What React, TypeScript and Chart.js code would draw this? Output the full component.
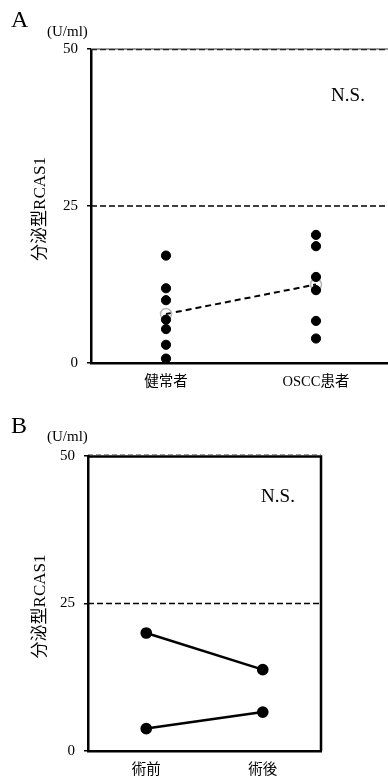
import React, { useEffect, useRef } from "react";
import { Chart, registerables } from "chart.js";

Chart.register(...registerables);

// ---- Data ----
const groupsA = ["健常者", "OSCC患者"];
const healthyValues = [17.1, 11.9, 10.0, 6.9, 5.4, 2.9, 0.7];
const osccValues = [20.4, 18.6, 13.7, 11.6, 6.7, 3.9];
const meanValues = [7.8, 12.5];

const phasesB = ["術前", "術後"];
const patient1 = [20.0, 13.8];
const patient2 = [3.8, 6.6];

const yTicks = [0, 25, 50];
const cutoff = 25;
const yMax = 50;
const yTitle = "分泌型RCAS1";
const unitLabel = "(U/ml)";
const sigLabel = "N.S.";
const panelLabels = ["A", "B"];

const SERIF = "'Liberation Serif', 'Times New Roman', serif";
const MIXED = "'Liberation Serif', 'Noto Sans CJK JP', serif";

type PanelLayout = {
  width: number;
  height: number;
  top: number;
  left: number;
  right: number;
  bottom: number;
  boxed: boolean;
  panel: string;
  nsX: number;
  nsY: number;
  letterY: number;
  unitY: number;
};

function annotationPlugin(L: PanelLayout) {
  return {
    id: "annot" + L.panel,
    beforeDatasetsDraw(chart: any) {
      const ctx = chart.ctx as CanvasRenderingContext2D;
      const y = chart.scales.y;
      const area = chart.chartArea;
      const extra = L.boxed ? 0 : 20;
      ctx.save();
      // cutoff dashed line
      const yc = y.getPixelForValue(cutoff);
      ctx.strokeStyle = "#000";
      ctx.lineWidth = 1.6;
      ctx.setLineDash([6, 3]);
      ctx.beginPath();
      ctx.moveTo(area.left, yc);
      ctx.lineTo(area.right + extra, yc);
      ctx.stroke();
      // top line at max
      const yt = y.getPixelForValue(yMax);
      if (L.boxed) {
        ctx.setLineDash([]);
        ctx.lineWidth = 2.5;
        ctx.strokeStyle = "#000";
        ctx.beginPath();
        ctx.moveTo(area.left, yt + 0.5);
        ctx.lineTo(area.right, yt + 0.5);
        ctx.lineTo(area.right, area.bottom);
        ctx.stroke();
        ctx.setLineDash([5, 3]);
        ctx.lineWidth = 1;
        ctx.strokeStyle = "#999";
        ctx.beginPath();
        ctx.moveTo(area.left, yt - 1.5);
        ctx.lineTo(area.right, yt - 1.5);
        ctx.stroke();
      } else {
        ctx.setLineDash([]);
        ctx.lineWidth = 2.2;
        ctx.strokeStyle = "#9a9a9a";
        ctx.beginPath();
        ctx.moveTo(area.left, yt);
        ctx.lineTo(area.right + extra, yt);
        ctx.stroke();
        ctx.setLineDash([6, 3]);
        ctx.lineWidth = 1.2;
        ctx.strokeStyle = "#222";
        ctx.beginPath();
        ctx.moveTo(area.left, yt + 0.6);
        ctx.lineTo(area.right + extra, yt + 0.6);
        ctx.stroke();
      }
      ctx.restore();
    },
    afterDraw(chart: any) {
      const ctx = chart.ctx as CanvasRenderingContext2D;
      const area = chart.chartArea;
      ctx.save();
      ctx.fillStyle = "#000";
      // panel letter
      ctx.font = `24px ${SERIF}`;
      ctx.textAlign = "left";
      ctx.textBaseline = "middle";
      ctx.fillText(L.panel, 11, L.letterY);
      // unit
      ctx.font = `15px ${SERIF}`;
      ctx.fillText(unitLabel, 47, L.unitY);
      // N.S.
      ctx.font = `19px ${SERIF}`;
      ctx.textAlign = "center";
      ctx.fillText(sigLabel, L.nsX, L.nsY);
      // y title
      ctx.translate(41, (area.top + area.bottom) / 2 + 3);
      ctx.rotate(-Math.PI / 2);
      ctx.font = `17px ${MIXED}`;
      ctx.textAlign = "center";
      ctx.textBaseline = "middle";
      ctx.fillText(yTitle, 0, 0);
      ctx.restore();
    },
  };
}

function baseScales(L: PanelLayout) {
  return {
    x: {
      type: "category" as const,
      offset: true,
      grid: { drawOnChartArea: false, drawTicks: false },
      border: { display: true, color: "#000", width: 2.5 },
      ticks: { color: "#000", font: { family: MIXED, size: 14.5 }, padding: 10 },
      afterFit: (s: any) => {
        s.height = L.height - L.bottom;
      },
    },
    y: {
      min: 0,
      max: yMax,
      afterBuildTicks: (s: any) => {
        s.ticks = yTicks.map((v) => ({ value: v }));
      },
      grid: { drawOnChartArea: false, color: "#000", tickLength: 4, lineWidth: 1.5 },
      border: { display: true, color: "#000", width: 2.5 },
      ticks: { color: "#000", font: { family: SERIF, size: 15 }, padding: 9 },
      afterFit: (s: any) => {
        s.width = L.left;
      },
    },
  };
}

function commonOptions(L: PanelLayout) {
  return {
    responsive: false,
    animation: false as const,
    layout: { padding: { top: L.top, right: L.width - L.right, left: 0, bottom: 0 } },
    plugins: { legend: { display: false }, tooltip: { enabled: false } },
    scales: baseScales(L),
  };
}

const layoutA: PanelLayout = {
  width: 400,
  height: 392,
  top: 49,
  left: 91,
  right: 391,
  bottom: 363,
  boxed: false,
  panel: panelLabels[0],
  nsX: 348,
  nsY: 96,
  letterY: 21,
  unitY: 32,
};

const layoutB: PanelLayout = {
  width: 388,
  height: 385,
  top: 64,
  left: 88,
  right: 321,
  bottom: 359,
  boxed: true,
  panel: panelLabels[1],
  nsX: 278,
  nsY: 105,
  letterY: 35,
  unitY: 45,
};

function PanelA() {
  const ref = useRef<HTMLCanvasElement>(null);
  useEffect(() => {
    const L = layoutA;
    const dot = {
      showLine: false,
      pointRadius: 4.6,
      pointBackgroundColor: "#000",
      pointBorderColor: "#000",
      borderColor: "#000",
      clip: false as const,
    };
    const chart = new Chart(ref.current!, {
      type: "line",
      data: {
        labels: groupsA,
        datasets: [
          {
            ...dot,
            label: groupsA[0],
            data: healthyValues.map((v) => ({ x: groupsA[0], y: v })) as any,
          },
          {
            ...dot,
            label: groupsA[1],
            data: osccValues.map((v) => ({ x: groupsA[1], y: v })) as any,
          },
          {
            label: "mean",
            data: meanValues,
            borderColor: "#000",
            borderWidth: 2,
            borderDash: [6, 4],
            pointRadius: 5.5,
            pointBorderWidth: 1.5,
            pointBorderColor: "#b5b5b5",
            pointBackgroundColor: "rgba(0,0,0,0)",
            clip: false as const,
          },
        ],
      },
      options: commonOptions(L) as any,
      plugins: [annotationPlugin(L)],
    });
    return () => chart.destroy();
  }, []);
  return (
    <div style={{ width: 388, height: layoutA.height, overflow: "hidden" }}>
      <canvas ref={ref} width={layoutA.width} height={layoutA.height} style={{ display: "block" }} />
    </div>
  );
}

function PanelB() {
  const ref = useRef<HTMLCanvasElement>(null);
  useEffect(() => {
    const L = layoutB;
    const pair = {
      borderColor: "#000",
      borderWidth: 2.5,
      pointRadius: 4.6,
      pointBackgroundColor: "#000",
      pointBorderColor: "#000",
      clip: false as const,
    };
    const chart = new Chart(ref.current!, {
      type: "line",
      data: {
        labels: phasesB,
        datasets: [
          { ...pair, label: "1", data: patient1 },
          { ...pair, label: "2", data: patient2 },
        ],
      },
      options: commonOptions(L) as any,
      plugins: [annotationPlugin(L)],
    });
    return () => chart.destroy();
  }, []);
  return (
    <div style={{ width: 388, height: layoutB.height, overflow: "hidden" }}>
      <canvas ref={ref} width={layoutB.width} height={layoutB.height} style={{ display: "block" }} />
    </div>
  );
}

export default function App() {
  return (
    <div
      style={{
        position: "absolute",
        left: 0,
        top: 0,
        width: 388,
        height: 777,
        overflow: "hidden",
        background: "#fff",
      }}
    >
      <PanelA />
      <PanelB />
    </div>
  );
}
